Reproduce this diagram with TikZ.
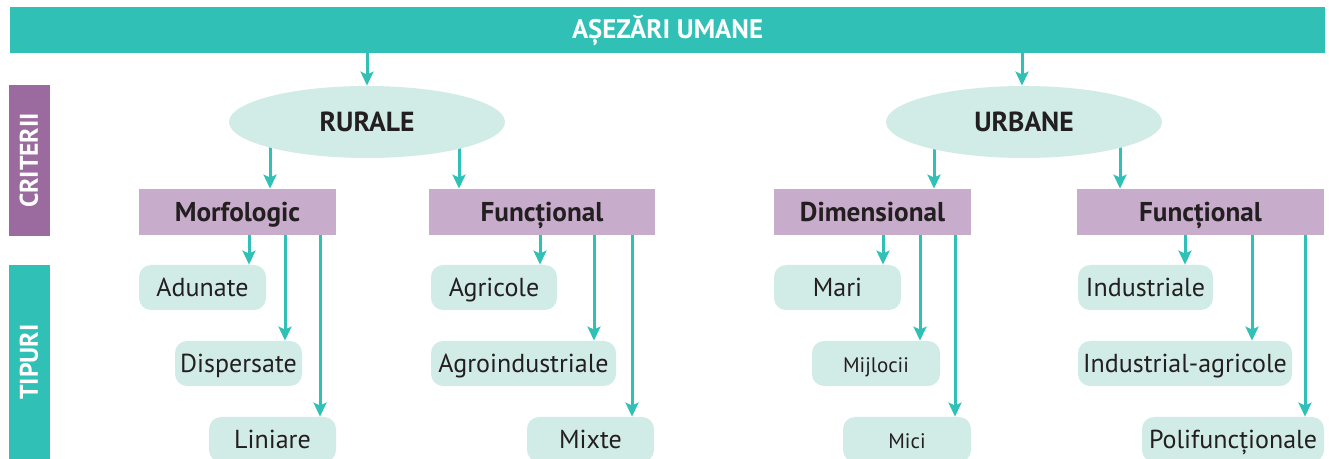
\documentclass[tikz,border=0pt]{standalone}
\usepackage{fontspec}
\setmainfont{PT Sans}
\usepackage{tikz}
\usetikzlibrary{shapes.geometric, arrows.meta, backgrounds, positioning}
\usepackage{xcolor}
\definecolor{tealbar}{RGB}{49,192,182}
\definecolor{mint}{RGB}{209,235,230}
\definecolor{lilac}{RGB}{200,172,203}
\definecolor{plum}{RGB}{155,106,159}
\definecolor{inkdark}{RGB}{35,31,32}

\begin{document}
\begin{tikzpicture}[x=0.5pt, y=-0.5pt,
  every node/.style={font=\fontsize{13}{15}\selectfont, text=inkdark, inner sep=0pt, text height=0.95em, text depth=0pt},
  crit/.style={fill=lilac, minimum height=23pt, font=\bfseries\fontsize{13.6}{16}\selectfont},
  leaf/.style={fill=mint, rounded corners=6pt, minimum height=22.5pt},
  oval/.style={ellipse, fill=mint, minimum width=138pt, minimum height=36pt, font=\bfseries\fontsize{13.8}{16}\selectfont},
  side/.style={rotate=90, minimum height=20.5pt, text=white, text height=0.85em, font=\bfseries\fontsize{12.8}{15}\selectfont},
  arr/.style={-{Stealth[width=6.5pt, length=7pt, inset=1.5pt]}, line width=1.5pt, draw=tealbar}]
  \useasboundingbox (0,0) rectangle (1329,459);
  % top bar and side labels
  \node[fill=tealbar, minimum width=657.5pt, minimum height=23pt, text=white, text height=0.85em, font=\bfseries\fontsize{13.4}{16}\selectfont] (asez) at (667.5,30) {AȘEZĂRI UMANE};
  \node[side, fill=plum, minimum width=75.5pt] (criterii) at (29.5,160.5) {CRITERII};
  \node[side, fill=tealbar, minimum width=97pt] (tipuri) at (29.5,362) {TIPURI};
  % ovals
  \node[oval] (rurale) at (367,122) {RURALE};
  \node[oval] (urbane) at (1024,122) {URBANE};
  % criteria
  \node[crit, minimum width=98.5pt] (morf) at (237.5,212) {Morfologic};
  \node[crit, minimum width=113pt] (funcr) at (542,212) {Funcțional};
  \node[crit, minimum width=98.5pt] (dim) at (872.5,212) {Dimensional};
  \node[crit, minimum width=123.5pt] (funcu) at (1200.5,212) {Funcțional};
  % types
  \node[leaf, minimum width=63.5pt] (adun) at (202.5,287.5) {Adunate};
  \node[leaf, minimum width=63.5pt] (disp) at (238.5,363.5) {Dispersate};
  \node[leaf, minimum width=63.5pt] (lini) at (272.5,439.5) {Liniare};
  \node[leaf, minimum width=63pt] (agri) at (494,287.5) {Agricole};
  \node[leaf, minimum width=92.5pt] (agro) at (523.5,363.5) {Agroindustriale};
  \node[leaf, minimum width=63.5pt] (mixt) at (590.5,439.5) {Mixte};
  \node[leaf, minimum width=63.5pt] (mari) at (837.5,287.5) {Mari};
  \node[leaf, minimum width=64pt, font=\fontsize{10.5}{12}\selectfont] (mijl) at (876,363.5) {Mijlocii};
  \node[leaf, minimum width=64pt, font=\fontsize{10.5}{12}\selectfont] (mici) at (907,439.5) {Mici};
  \node[leaf, minimum width=67.5pt] (indu) at (1145.5,287.5) {Industriale};
  \node[leaf, minimum width=107pt] (inag) at (1185,363.5) {Industrial-agricole};
  \node[leaf, minimum width=91pt] (poli) at (1233,439.5) {Polifuncționale};
  % arrows
  \draw[arr] (asez.south -| 367,0) -- (rurale.north);
  \draw[arr] (asez.south -| 1022,0) -- (urbane.north -| 1022,0);
  \begin{scope}[on background layer]
    \draw[arr] (rurale.center -| 270,0) -- (morf.north -| 270,0);
    \draw[arr] (rurale.center -| 459,0) -- (funcr.north -| 459,0);
    \draw[arr] (urbane.center -| 934,0) -- (dim.north -| 934,0);
    \draw[arr] (urbane.center -| 1120,0) -- (funcu.north -| 1120,0);
  \end{scope}
  \draw[arr] (morf.south -| 249,0) -- (adun.north -| 249,0);
  \draw[arr] (morf.south -| 285,0) -- (disp.north -| 285,0);
  \draw[arr] (morf.south -| 320,0) -- (lini.north -| 320,0);
  \draw[arr] (funcr.south -| 540,0) -- (agri.north -| 540,0);
  \draw[arr] (funcr.south -| 594,0) -- (agro.north -| 594,0);
  \draw[arr] (funcr.south -| 632,0) -- (mixt.north -| 632,0);
  \draw[arr] (dim.south -| 883,0) -- (mari.north -| 883,0);
  \draw[arr] (dim.south -| 920,0) -- (mijl.north -| 920,0);
  \draw[arr] (dim.south -| 955,0) -- (mici.north -| 955,0);
  \draw[arr] (funcu.south -| 1185,0) -- (indu.north -| 1185,0);
  \draw[arr] (funcu.south -| 1252,0) -- (inag.north -| 1252,0);
  \draw[arr] (funcu.south -| 1305,0) -- (poli.north -| 1305,0);
\end{tikzpicture}
\end{document}
